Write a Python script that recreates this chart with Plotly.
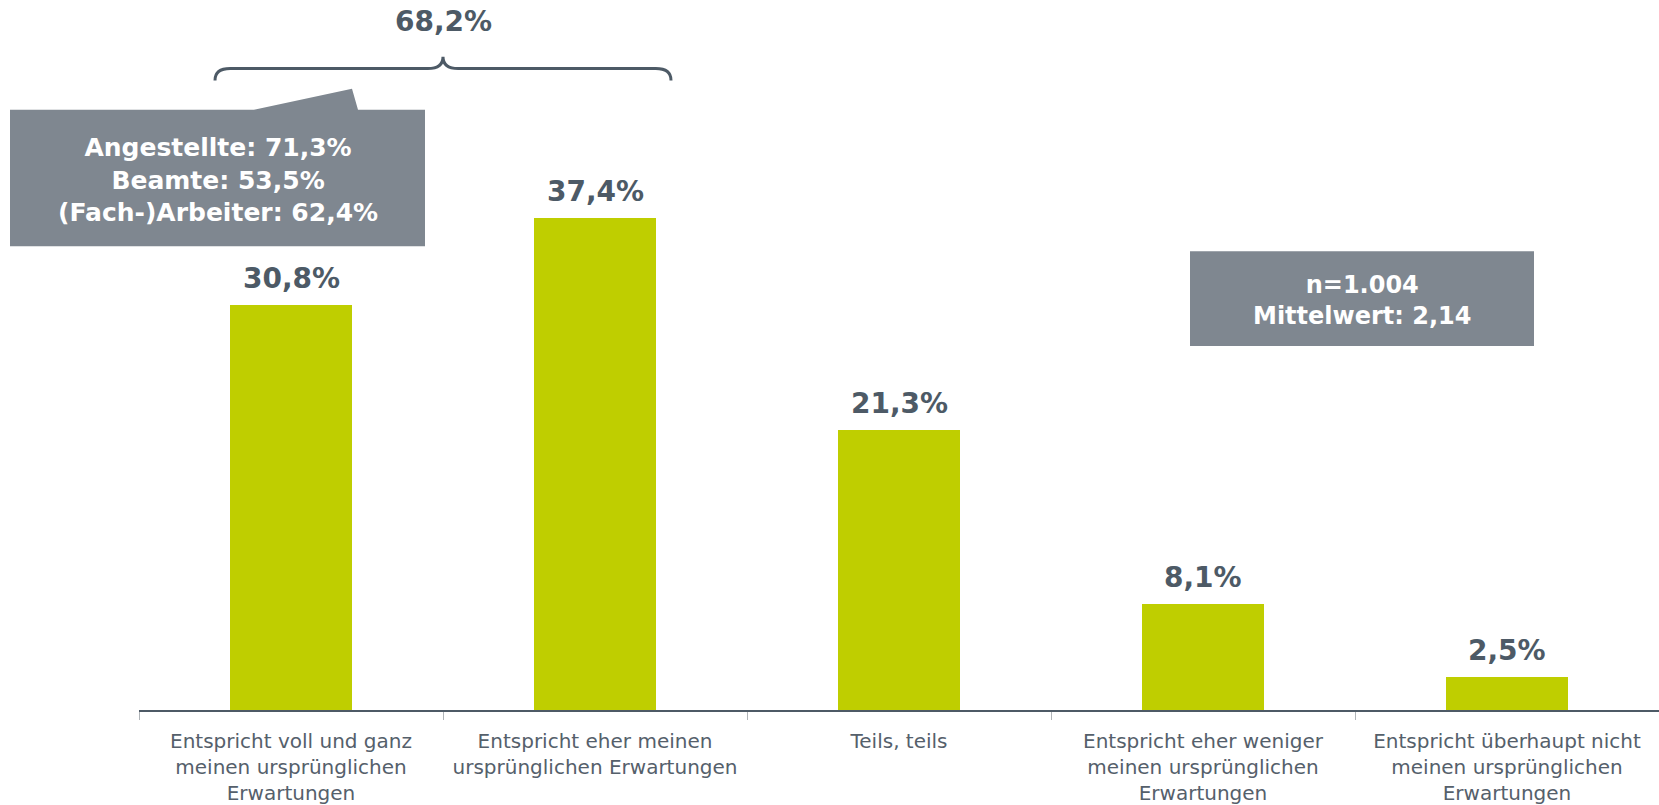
import plotly.graph_objects as go

# Survey answers and shares (%)
categories = [
    "Entspricht voll und ganz<br>meinen ursprünglichen<br>Erwartungen",
    "Entspricht eher meinen<br>ursprünglichen Erwartungen",
    "Teils, teils",
    "Entspricht eher weniger<br>meinen ursprünglichen<br>Erwartungen",
    "Entspricht überhaupt nicht<br>meinen ursprünglichen<br>Erwartungen",
]
values = [30.8, 37.4, 21.3, 8.1, 2.5]

# Agreement (top two answers) by occupational group
groups = ["Angestellte", "Beamte", "(Fach-)Arbeiter"]
group_shares = [71.3, 53.5, 62.4]

sample_size = "1.004"
mean_value = 2.14

BAR = "#bfce00"
DARK = "#4d5a66"
BOX = "#7f8790"
TICK_TXT = "#55606b"
BOLD_FONT = "Verdana, DejaVu Sans, sans-serif"

W, H = 1659, 805
PLOT_B = 93
PLOT_H = H - PLOT_B
AX_LEFT = 139
PX_PER_PCT = 13.18


def de(v, d=1):
    return f"{v:.{d}f}".replace(".", ",")


def px_x(px):
    return px / W


def px_y(py):
    return (PLOT_H - py) / PLOT_H


x = list(range(len(values)))
fig = go.Figure()
fig.add_trace(go.Bar(x=x, y=values, width=0.4, marker=dict(color=BAR, line=dict(width=0)),
                     hoverinfo="skip"))

# value labels above each bar
for xi, v in zip(x, values):
    fig.add_annotation(x=xi, y=v, xref="x", yref="y", text=f"<b>{de(v)}%</b>",
                       showarrow=False, xanchor="center", yanchor="bottom", yshift=8,
                       font=dict(family=BOLD_FONT, size=28, color=DARK))

# curly brace spanning the two agreeing answers
xl, xr = -0.25, 1.25
xm = (xl + xr) / 2
yb, yh, yt = 47.9, 48.8, 49.7
d = 0.05
path = (f"M {xl},{yb} Q {xl},{yh} {xl + d},{yh} L {xm - d},{yh} "
        f"Q {xm},{yh} {xm},{yt} Q {xm},{yh} {xm + d},{yh} "
        f"L {xr - d},{yh} Q {xr},{yh} {xr},{yb}")
fig.add_shape(type="path", path=path, xref="x", yref="y",
              line=dict(color=DARK, width=3), fillcolor="rgba(0,0,0,0)")
top_two = values[0] + values[1]
fig.add_annotation(x=xm, y=px_y(22), xref="x", yref="paper", text=f"<b>{de(top_two)}%</b>",
                   showarrow=False, xanchor="center", yanchor="middle",
                   font=dict(family=BOLD_FONT, size=28, color=DARK))

# callout box with group breakdown
cx0, cx1, cy0, cy1 = 10, 425, 110, 247
callout = (f"M {px_x(cx0)},{px_y(cy1)} L {px_x(cx0)},{px_y(cy0)} "
           f"L {px_x(254)},{px_y(cy0)} L {px_x(352)},{px_y(89)} L {px_x(358)},{px_y(cy0)} "
           f"L {px_x(cx1)},{px_y(cy0)} L {px_x(cx1)},{px_y(cy1)} Z")
fig.add_shape(type="path", path=callout, xref="paper", yref="paper",
              fillcolor=BOX, line=dict(width=0))
callout_text = "<br>".join(f"<b>{g}: {de(s)}%</b>" for g, s in zip(groups, group_shares))
fig.add_annotation(x=px_x((cx0 + cx1) / 2), y=px_y(181), xref="paper", yref="paper",
                   text=callout_text, showarrow=False, align="center",
                   xanchor="center", yanchor="middle",
                   font=dict(family=BOLD_FONT, size=25, color="white"))

# sample info box
fig.add_shape(type="rect", xref="paper", yref="paper",
              x0=px_x(1190), x1=px_x(1534), y0=px_y(347), y1=px_y(252),
              fillcolor=BOX, line=dict(width=0))
fig.add_annotation(x=px_x(1362), y=px_y(301), xref="paper", yref="paper",
                   text=f"<b>n={sample_size}</b><br><b>Mittelwert: {de(mean_value, 2)}</b>",
                   showarrow=False, align="center", xanchor="center", yanchor="middle",
                   font=dict(family=BOLD_FONT, size=24, color="white"))

fig.update_layout(
    width=W, height=H,
    margin=dict(l=0, r=0, t=0, b=PLOT_B),
    paper_bgcolor="white", plot_bgcolor="white",
    showlegend=False,
    bargap=0,
    xaxis=dict(
        domain=[AX_LEFT / W, 1], range=[-0.5, len(values) - 0.5],
        tickmode="array", tickvals=x, ticktext=categories, ticks="",
        ticklabelstandoff=12,
        tickfont=dict(family="DejaVu Sans, sans-serif", size=20, color=TICK_TXT),
        showline=True, linecolor=DARK, linewidth=2, showgrid=False, zeroline=False,
        minor=dict(tickmode="array", tickvals=[i - 0.5 for i in range(len(values) + 1)],
                   ticks="outside", ticklen=8, tickcolor="#b0b4b8", tickwidth=1,
                   showgrid=False),
        fixedrange=True,
    ),
    yaxis=dict(range=[0, PLOT_H / PX_PER_PCT], visible=False, fixedrange=True),
)

fig.write_html("out.html")
